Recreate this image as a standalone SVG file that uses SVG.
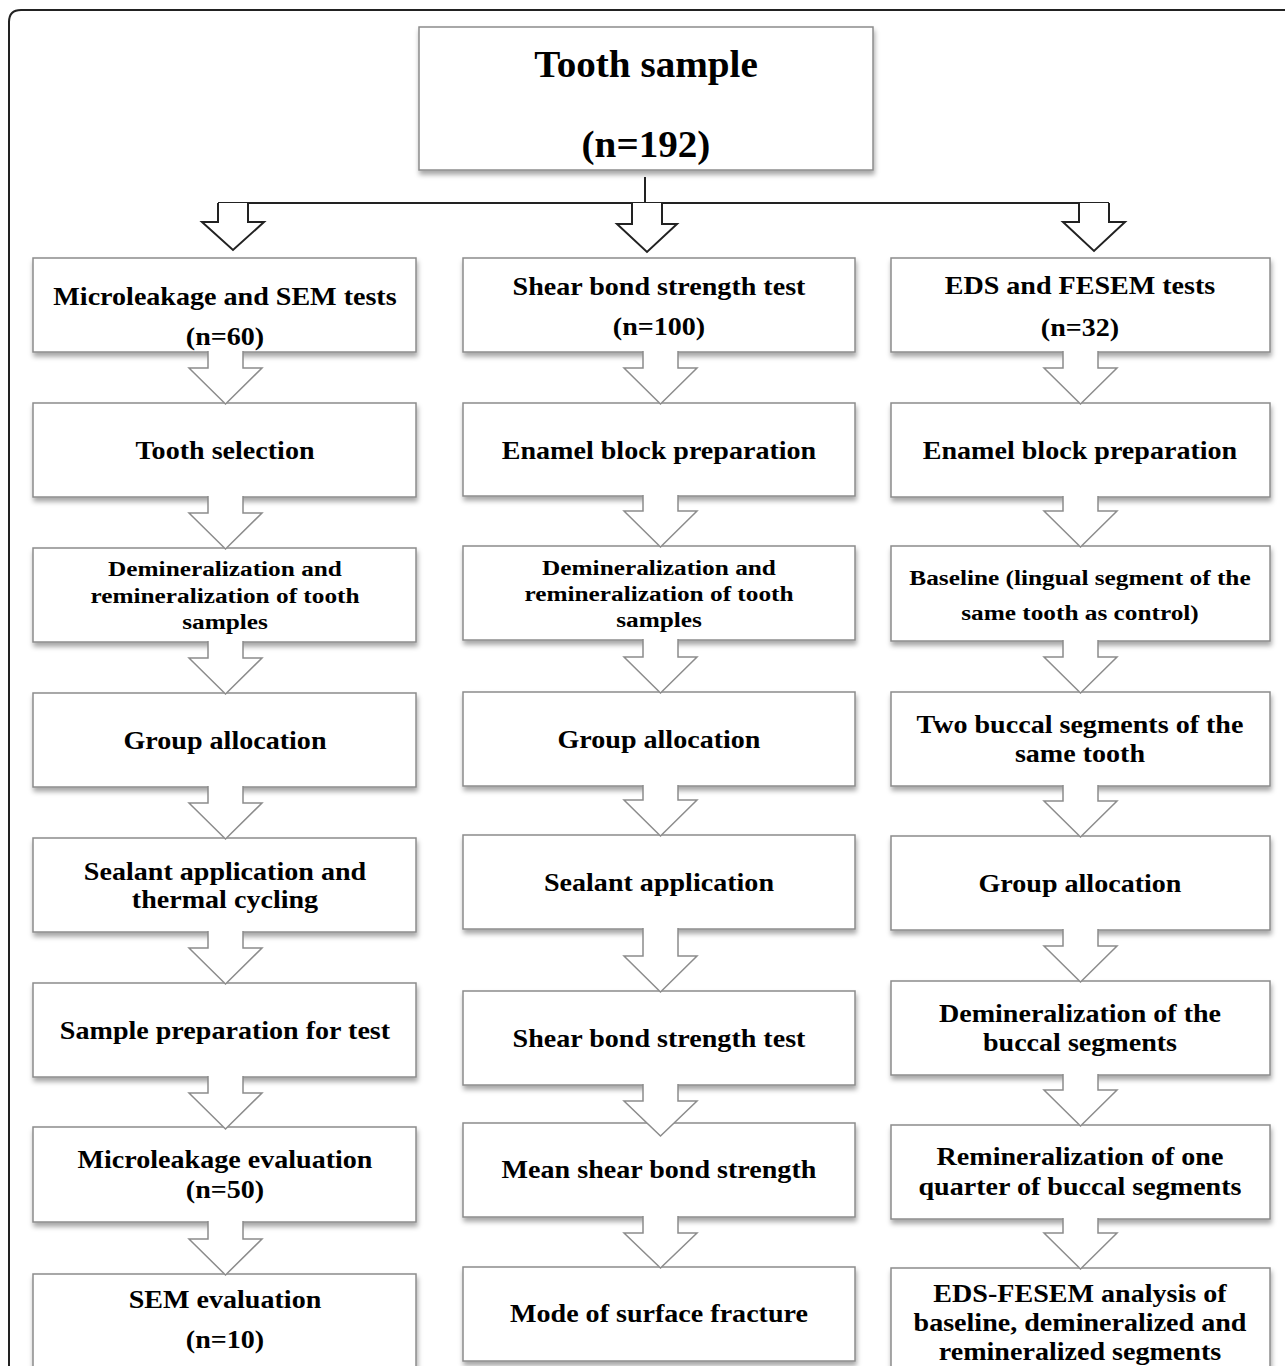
<svg xmlns="http://www.w3.org/2000/svg" width="1285" height="1366" viewBox="0 0 1285 1366">
<defs>
<filter id="sh" x="-5%" y="-10%" width="115%" height="130%">
<feDropShadow dx="1" dy="4" stdDeviation="2.5" flood-color="#000" flood-opacity="0.35"/>
</filter>
</defs>
<style>
.box{fill:#fff;stroke:#8c8c8c;stroke-width:1.5;filter:url(#sh)}
.t{font-family:"Liberation Serif","Times New Roman",serif;font-weight:bold;fill:#000;text-anchor:middle;font-size:26px;transform-box:fill-box;transform-origin:center;transform:scale(1.08,1)}
.s{font-size:22px;transform:scale(1.15,1)}
.big{font-size:38px;transform:scale(1.03,1)}
.ga{fill:#fff;stroke:#8c8c8c;stroke-width:1.5;stroke-linejoin:miter}
.da{fill:#fff;stroke:#222;stroke-width:2;stroke-linejoin:miter}
.ln{fill:none;stroke:#222;stroke-width:2}
</style>
<rect width="1285" height="1366" fill="#fff"/>
<path class="ln" d="M9 1380 V22 Q9 10 21 10 H1300"/>

<g id="top">
<rect class="box" x="419" y="27" width="454" height="143"/>
<text class="t big" x="646" y="77">Tooth sample</text>
<text class="t big" x="646" y="157">(n=192)</text>
</g>

<g id="L1"><rect class="box" x="33" y="258" width="383" height="94"/>
<text class="t" x="225" y="305">Microleakage and SEM tests</text>
<text class="t" x="225" y="345">(n=60)</text></g>
<g id="L2"><rect class="box" x="33" y="403" width="383" height="94"/>
<text class="t" x="225" y="459">Tooth selection</text></g>
<g id="L3"><rect class="box" x="33" y="548" width="383" height="94"/>
<text class="t s" x="225" y="576">Demineralization and</text>
<text class="t s" x="225" y="603">remineralization of tooth</text>
<text class="t s" x="225" y="629">samples</text></g>
<g id="L4"><rect class="box" x="33" y="693" width="383" height="94"/>
<text class="t" x="225" y="749">Group allocation</text></g>
<g id="L5"><rect class="box" x="33" y="838" width="383" height="94"/>
<text class="t" x="225" y="880">Sealant application and</text>
<text class="t" x="225" y="908">thermal cycling</text></g>
<g id="L6"><rect class="box" x="33" y="983" width="383" height="94"/>
<text class="t" x="225" y="1039">Sample preparation for test</text></g>
<g id="L7"><rect class="box" x="33" y="1127" width="383" height="95"/>
<text class="t" x="225" y="1168">Microleakage evaluation</text>
<text class="t" x="225" y="1198">(n=50)</text></g>
<g id="L8"><rect class="box" x="33" y="1274" width="383" height="110"/>
<text class="t" x="225" y="1308">SEM evaluation</text>
<text class="t" x="225" y="1348">(n=10)</text></g>

<g id="M1"><rect class="box" x="463" y="258" width="392" height="94"/>
<text class="t" x="659" y="295">Shear bond strength test</text>
<text class="t" x="659" y="335">(n=100)</text></g>
<g id="M2"><rect class="box" x="463" y="403" width="392" height="93"/>
<text class="t" x="659" y="459">Enamel block preparation</text></g>
<g id="M3"><rect class="box" x="463" y="546" width="392" height="94"/>
<text class="t s" x="659" y="575">Demineralization and</text>
<text class="t s" x="659" y="601">remineralization of tooth</text>
<text class="t s" x="659" y="627">samples</text></g>
<g id="M4"><rect class="box" x="463" y="692" width="392" height="94"/>
<text class="t" x="659" y="748">Group allocation</text></g>
<g id="M5"><rect class="box" x="463" y="835" width="392" height="94"/>
<text class="t" x="659" y="891">Sealant application</text></g>
<g id="M6"><rect class="box" x="463" y="991" width="392" height="94"/>
<text class="t" x="659" y="1047">Shear bond strength test</text></g>
<g id="M7"><rect class="box" x="463" y="1123" width="392" height="94"/>
<text class="t" x="659" y="1178">Mean shear bond strength</text></g>
<g id="M8"><rect class="box" x="463" y="1267" width="392" height="94"/>
<text class="t" x="659" y="1322">Mode of surface fracture</text></g>

<g id="R1"><rect class="box" x="891" y="258" width="379" height="94"/>
<text class="t" x="1080" y="294">EDS and FESEM tests</text>
<text class="t" x="1080" y="336">(n=32)</text></g>
<g id="R2"><rect class="box" x="891" y="403" width="379" height="94"/>
<text class="t" x="1080" y="459">Enamel block preparation</text></g>
<g id="R3"><rect class="box" x="891" y="546" width="379" height="95"/>
<text class="t s" x="1080" y="585">Baseline (lingual segment of the</text>
<text class="t s" x="1080" y="620">same tooth as control)</text></g>
<g id="R4"><rect class="box" x="891" y="692" width="379" height="94"/>
<text class="t" x="1080" y="733">Two buccal segments of the</text>
<text class="t" x="1080" y="762">same tooth</text></g>
<g id="R5"><rect class="box" x="891" y="836" width="379" height="94"/>
<text class="t" x="1080" y="892">Group allocation</text></g>
<g id="R6"><rect class="box" x="891" y="981" width="379" height="94"/>
<text class="t" x="1080" y="1022">Demineralization of the</text>
<text class="t" x="1080" y="1051">buccal segments</text></g>
<g id="R7"><rect class="box" x="891" y="1125" width="379" height="94"/>
<text class="t" x="1080" y="1165">Remineralization of one</text>
<text class="t" x="1080" y="1195">quarter of buccal segments</text></g>
<g id="R8"><rect class="box" x="891" y="1268" width="379" height="110"/>
<text class="t" x="1080" y="1302">EDS-FESEM analysis of</text>
<text class="t" x="1080" y="1331">baseline, demineralized and</text>
<text class="t" x="1080" y="1360">remineralized segments</text></g>

<g id="connectors">
<path class="ln" d="M645 177 V203 M218 203 H1109"/>
<path class="da" d="M218 203 V222 H202 L233 250 L264 222 H248 V203"/>
<path class="da" d="M632 203 V224 H617 L647 252 L677 224 H662 V203"/>
<path class="da" d="M1079 203 V222 H1063 L1094 251 L1125 222 H1109 V203"/>

<path class="ga" d="M208 351 V368 H189 L225.5 404 L262 368 H243 V351"/>
<path class="ga" d="M208 496 V513 H189 L225.5 549 L262 513 H243 V496"/>
<path class="ga" d="M208 641 V658 H189 L225.5 694 L262 658 H243 V641"/>
<path class="ga" d="M208 786 V803 H189 L225.5 839 L262 803 H243 V786"/>
<path class="ga" d="M208 931 V948 H189 L225.5 984 L262 948 H243 V931"/>
<path class="ga" d="M208 1076 V1093 H189 L225.5 1129 L262 1093 H243 V1076"/>
<path class="ga" d="M208 1221 V1239 H189 L225.5 1275 L262 1239 H243 V1221"/>

<path class="ga" d="M643 351 V368 H624 L660.5 404 L697 368 H678 V351"/>
<path class="ga" d="M643 495 V511 H624 L660.5 547 L697 511 H678 V495"/>
<path class="ga" d="M643 639 V657 H624 L660.5 693 L697 657 H678 V639"/>
<path class="ga" d="M643 785 V800 H624 L660.5 836 L697 800 H678 V785"/>
<path class="ga" d="M643 928 V956 H624 L660.5 992 L697 956 H678 V928"/>
<path class="ga" d="M643 1084 V1101 H624 L660.5 1136 L697 1101 H678 V1084"/>
<path class="ga" d="M643 1216 V1233 H624 L660.5 1268 L697 1233 H678 V1216"/>

<path class="ga" d="M1063 351 V368 H1044 L1080.5 404 L1117 368 H1098 V351"/>
<path class="ga" d="M1063 496 V511 H1044 L1080.5 547 L1117 511 H1098 V496"/>
<path class="ga" d="M1063 640 V657 H1044 L1080.5 693 L1117 657 H1098 V640"/>
<path class="ga" d="M1063 785 V801 H1044 L1080.5 837 L1117 801 H1098 V785"/>
<path class="ga" d="M1063 929 V946 H1044 L1080.5 982 L1117 946 H1098 V929"/>
<path class="ga" d="M1063 1074 V1090 H1044 L1080.5 1126 L1117 1090 H1098 V1074"/>
<path class="ga" d="M1063 1218 V1233 H1044 L1080.5 1269 L1117 1233 H1098 V1218"/>
</g>
</svg>
